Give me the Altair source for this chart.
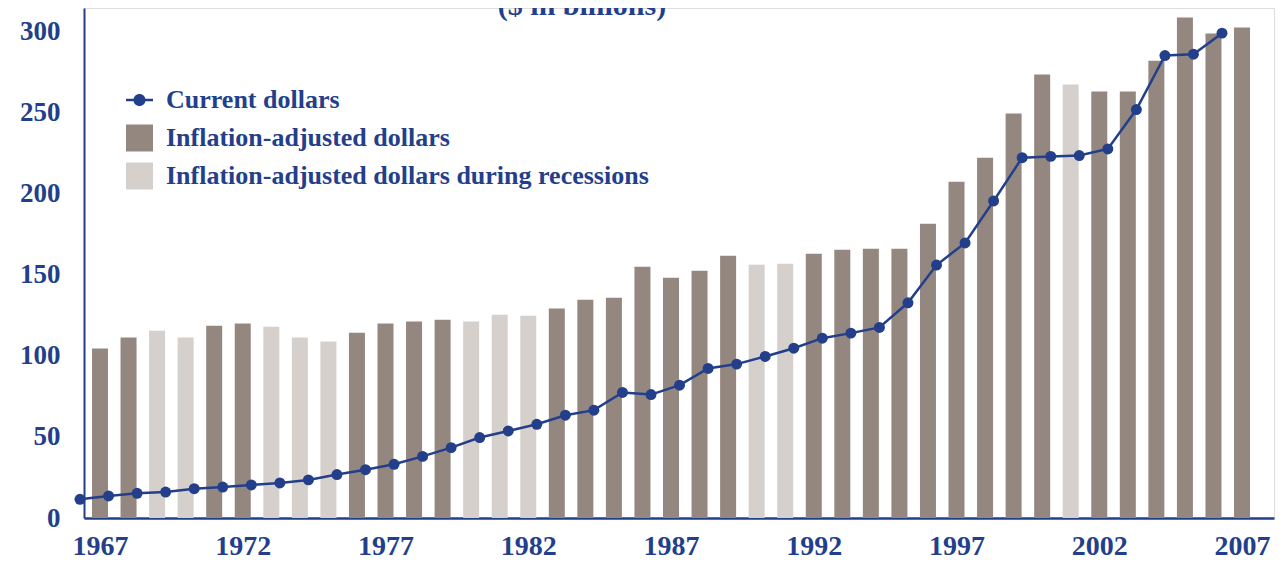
import altair as alt
import pandas as pd

# ---------------- data ----------------
years = list(range(1967, 2008))
inflation_adjusted = [
    104.5, 111.3, 115.4, 111.3, 118.5, 120.0, 117.9, 111.3, 108.8, 114.2,
    120.0, 121.2, 122.2, 121.2, 125.3, 124.7, 129.2, 134.6, 135.8, 155.0,
    148.1, 152.5, 161.7, 156.2, 156.8, 163.0, 165.4, 166.0, 166.0, 181.5,
    207.4, 222.2, 249.4, 273.5, 267.3, 263.0, 263.0, 282.0, 308.6, 298.8,
    302.5,
]
current_dollars = [
    11.5, 13.6, 15.2, 16.0, 18.1, 19.1, 20.4, 21.6, 23.5, 26.8,
    29.8, 33.1, 38.0, 43.4, 49.6, 53.7, 57.8, 63.4, 66.5, 77.4,
    76.1, 81.9, 92.2, 94.9, 99.6, 104.7, 110.9, 114.0, 117.5, 132.7,
    156.0, 169.6, 195.5, 222.2, 223.0, 223.5, 227.6, 251.9, 285.2, 286.0,
    299.0,
]
recession_years = [1969, 1970, 1973, 1974, 1975, 1980, 1981, 1982, 1990, 1991, 2001]
series_names = [
    "Current dollars",
    "Inflation-adjusted dollars",
    "Inflation-adjusted dollars during recessions",
]
series_colors = ["#233F8C", "#94877F", "#D5D0CC"]
y_ticks = [0, 50, 100, 150, 200, 250, 300]
x_ticks = [1967, 1972, 1977, 1982, 1987, 1992, 1997, 2002, 2007]
title_text = ["($ in billions)"]

NAVY = "#233F8C"
FONT = "Liberation Serif"

df = pd.DataFrame({
    "year": years,
    "adjusted": inflation_adjusted,
    "current": current_dollars,
    "bar_series": [series_names[2] if y in recession_years else series_names[1] for y in years],
    "line_series": [series_names[0]] * len(years),
})

line_symbol = ("M-1,-0.09H1V0.09H-1Z "
               "M-0.45,0A0.45,0.45 0 1 1 0.45,0A0.45,0.45 0 1 1 -0.45,0Z")

color_scale = alt.Scale(domain=series_names, range=series_colors)
legend = alt.Legend(
    title=None, orient="none", legendX=42, legendY=78.5, padding=0,
    symbolType={"expr": "datum.value === 'Current dollars' ? '" + line_symbol + "' : 'square'"},
    symbolSize=729, symbolStrokeWidth=0, symbolOpacity=1,
    labelFont=FONT, labelFontSize=26, labelFontWeight="bold", labelColor=NAVY,
    labelOffset=13, rowPadding=11, labelLimit=700,
)

x_axis = alt.Axis(
    values=x_ticks, format="d", title=None, grid=False, ticks=False, tickSize=0,
    labelPadding=36, labelBaseline="alphabetic", labelFont=FONT, labelFontSize=28,
    labelFontWeight="bold", labelColor=NAVY, domainColor=NAVY, domainWidth=2.5,
    labelFlush=False, labelOverlap=False,
)
y_axis = alt.Axis(
    values=y_ticks, title=None, grid=False, ticks=False, tickSize=0,
    labelPadding=24, labelFont=FONT, labelFontSize=27, labelFontWeight="bold",
    labelColor=NAVY, domainColor=NAVY, domainWidth=2,
)
x_scale = alt.Scale(domain=[1966.44, 2008.12], nice=False, zero=False, padding=0)
y_scale = alt.Scale(domain=[0, 314.5], nice=False, padding=0)

base = alt.Chart(df)

bars = base.mark_bar(size=16, opacity=1).encode(
    x=alt.X("year:Q", scale=x_scale, axis=x_axis),
    y=alt.Y("adjusted:Q", scale=y_scale, axis=y_axis),
    color=alt.Color("bar_series:N", scale=color_scale, legend=legend),
)

line = base.mark_line(color=NAVY, strokeWidth=2.5, xOffset=-20).encode(
    x=alt.X("year:Q", scale=x_scale, axis=x_axis),
    y=alt.Y("current:Q", scale=y_scale, axis=y_axis),
)

points = base.mark_circle(size=120, opacity=1, xOffset=-20).encode(
    x=alt.X("year:Q", scale=x_scale, axis=x_axis),
    y=alt.Y("current:Q", scale=y_scale, axis=y_axis),
    color=alt.Color("line_series:N", scale=color_scale, legend=legend),
)

title = alt.Chart(pd.DataFrame({"t": title_text})).mark_text(
    font=FONT, fontSize=30, fontWeight="bold", color=NAVY,
    align="center", baseline="alphabetic",
).encode(text="t:N", x=alt.value(498), y=alt.value(7))

chart = alt.layer(bars, line, points, title).properties(
    width=1190, height=510,
    autosize=alt.AutoSizeParams(type="none"),
    padding={"left": 76, "top": 0, "right": 3, "bottom": 46},
).configure_view(stroke=None).configure(background="white")

chart.save("out.html", embed_options={"renderer": "svg", "actions": False})
